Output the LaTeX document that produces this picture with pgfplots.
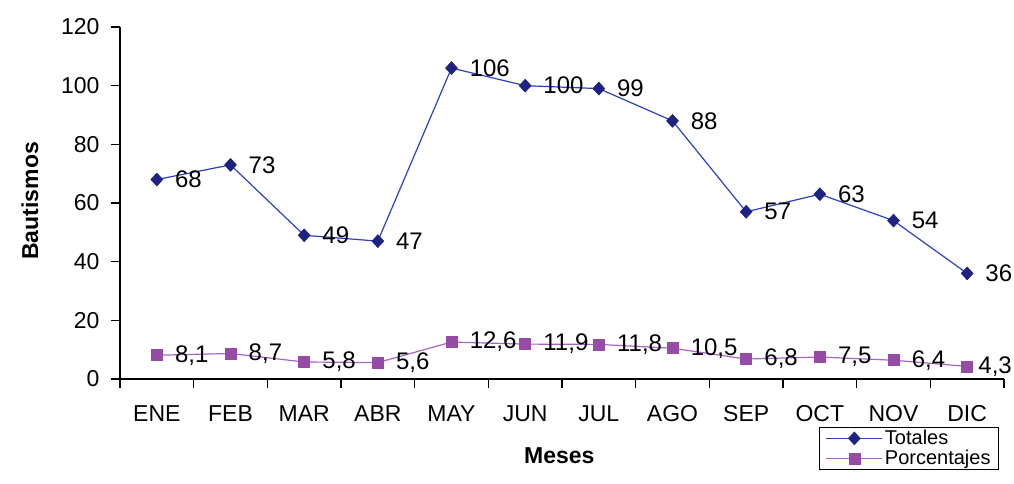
\documentclass[border=0pt]{standalone}
\usepackage{pgfplots}
\pgfplotsset{compat=1.18}
\usepackage{fontspec}
\setmainfont{Liberation Sans}
\definecolor{tblue}{RGB}{30,35,130}
\definecolor{tline}{RGB}{45,65,190}
\definecolor{tpurp}{RGB}{150,75,165}
\definecolor{tpline}{RGB}{170,100,200}
\begin{document}
\begin{tikzpicture}
\begin{axis}[
  scale only axis, width=884pt, height=352pt,
  xmin=0.5, xmax=12.5, ymin=0, ymax=120,
  axis x line=bottom, axis y line=left,
  axis line style={-, line width=1.2pt},
  xtick={1,...,12},
  xticklabels={ENE,FEB,MAR,ABR,MAY,JUN,JUL,AGO,SEP,OCT,NOV,DIC},
  major x tick style={draw=none},
  minor xtick={0.5,1.5,...,12.5},
  minor tick length=9pt,
  ytick={0,20,...,120},
  major tick length=9pt,
  tick align=outside,
  tick style={line width=1.2pt, black},
  every tick label/.append style={font=\fontsize{23}{26}\selectfont},
  xticklabel style={yshift=-14pt},
  yticklabel style={xshift=-8pt},
  /pgf/number format/assume math mode=true,
  ylabel={Bautismos},
  xlabel={Meses},
  label style={font=\fontsize{23}{26}\selectfont\bfseries},
  ylabel style={at={(axis description cs:-0.102,0.506)}, anchor=center},
  xlabel style={at={(axis description cs:0.497,-0.219)}, anchor=center},
  clip=false,
  legend style={at={(axis description cs:0.791,-0.136)}, anchor=north west,
    font=\fontsize{20}{22}\selectfont, draw=black, line width=1pt,
    inner xsep=6pt, inner ysep=1pt, row sep=0pt,
    /tikz/every even column/.append style={column sep=2pt}},
  legend cell align=left,
  legend image code/.code={\draw[mark repeat=2,mark phase=2,#1] plot coordinates {(0pt,0pt)(28pt,0pt)(56pt,0pt)};},
  nodes near coords={\pgfmathprintnumber[use comma,fixed,precision=1]{\pgfplotspointmeta}},
  nodes near coords style={anchor=west, font=\fontsize{24}{27}\selectfont, text=black, inner sep=1pt, xshift=17pt},
]
\addplot[color=tline, line width=1.2pt, mark=diamond*, mark size=6.5pt,
  mark options={fill=tblue, draw=tblue, line width=0.5pt, xscale=1.23}]
coordinates {(1,68)(2,73)(3,49)(4,47)(5,106)(6,100)(7,99)(8,88)(9,57)(10,63)(11,54)(12,36)};
\addlegendentry{Totales}
\addplot[color=tpline, line width=1.2pt, mark=square*, mark size=5.5pt,
  mark options={fill=tpurp, draw=tpurp, line width=0.5pt},
  coordinate style/.condition={x==12}{xshift=-7pt}]
coordinates {(1,8.1)(2,8.7)(3,5.8)(4,5.6)(5,12.6)(6,11.9)(7,11.8)(8,10.5)(9,6.8)(10,7.5)(11,6.4)(12,4.3)};
\addlegendentry{Porcentajes}
\end{axis}
\path (current axis.south west) ++(-120pt,-104pt) rectangle ++(1014pt,483pt);
\end{tikzpicture}
\end{document}
